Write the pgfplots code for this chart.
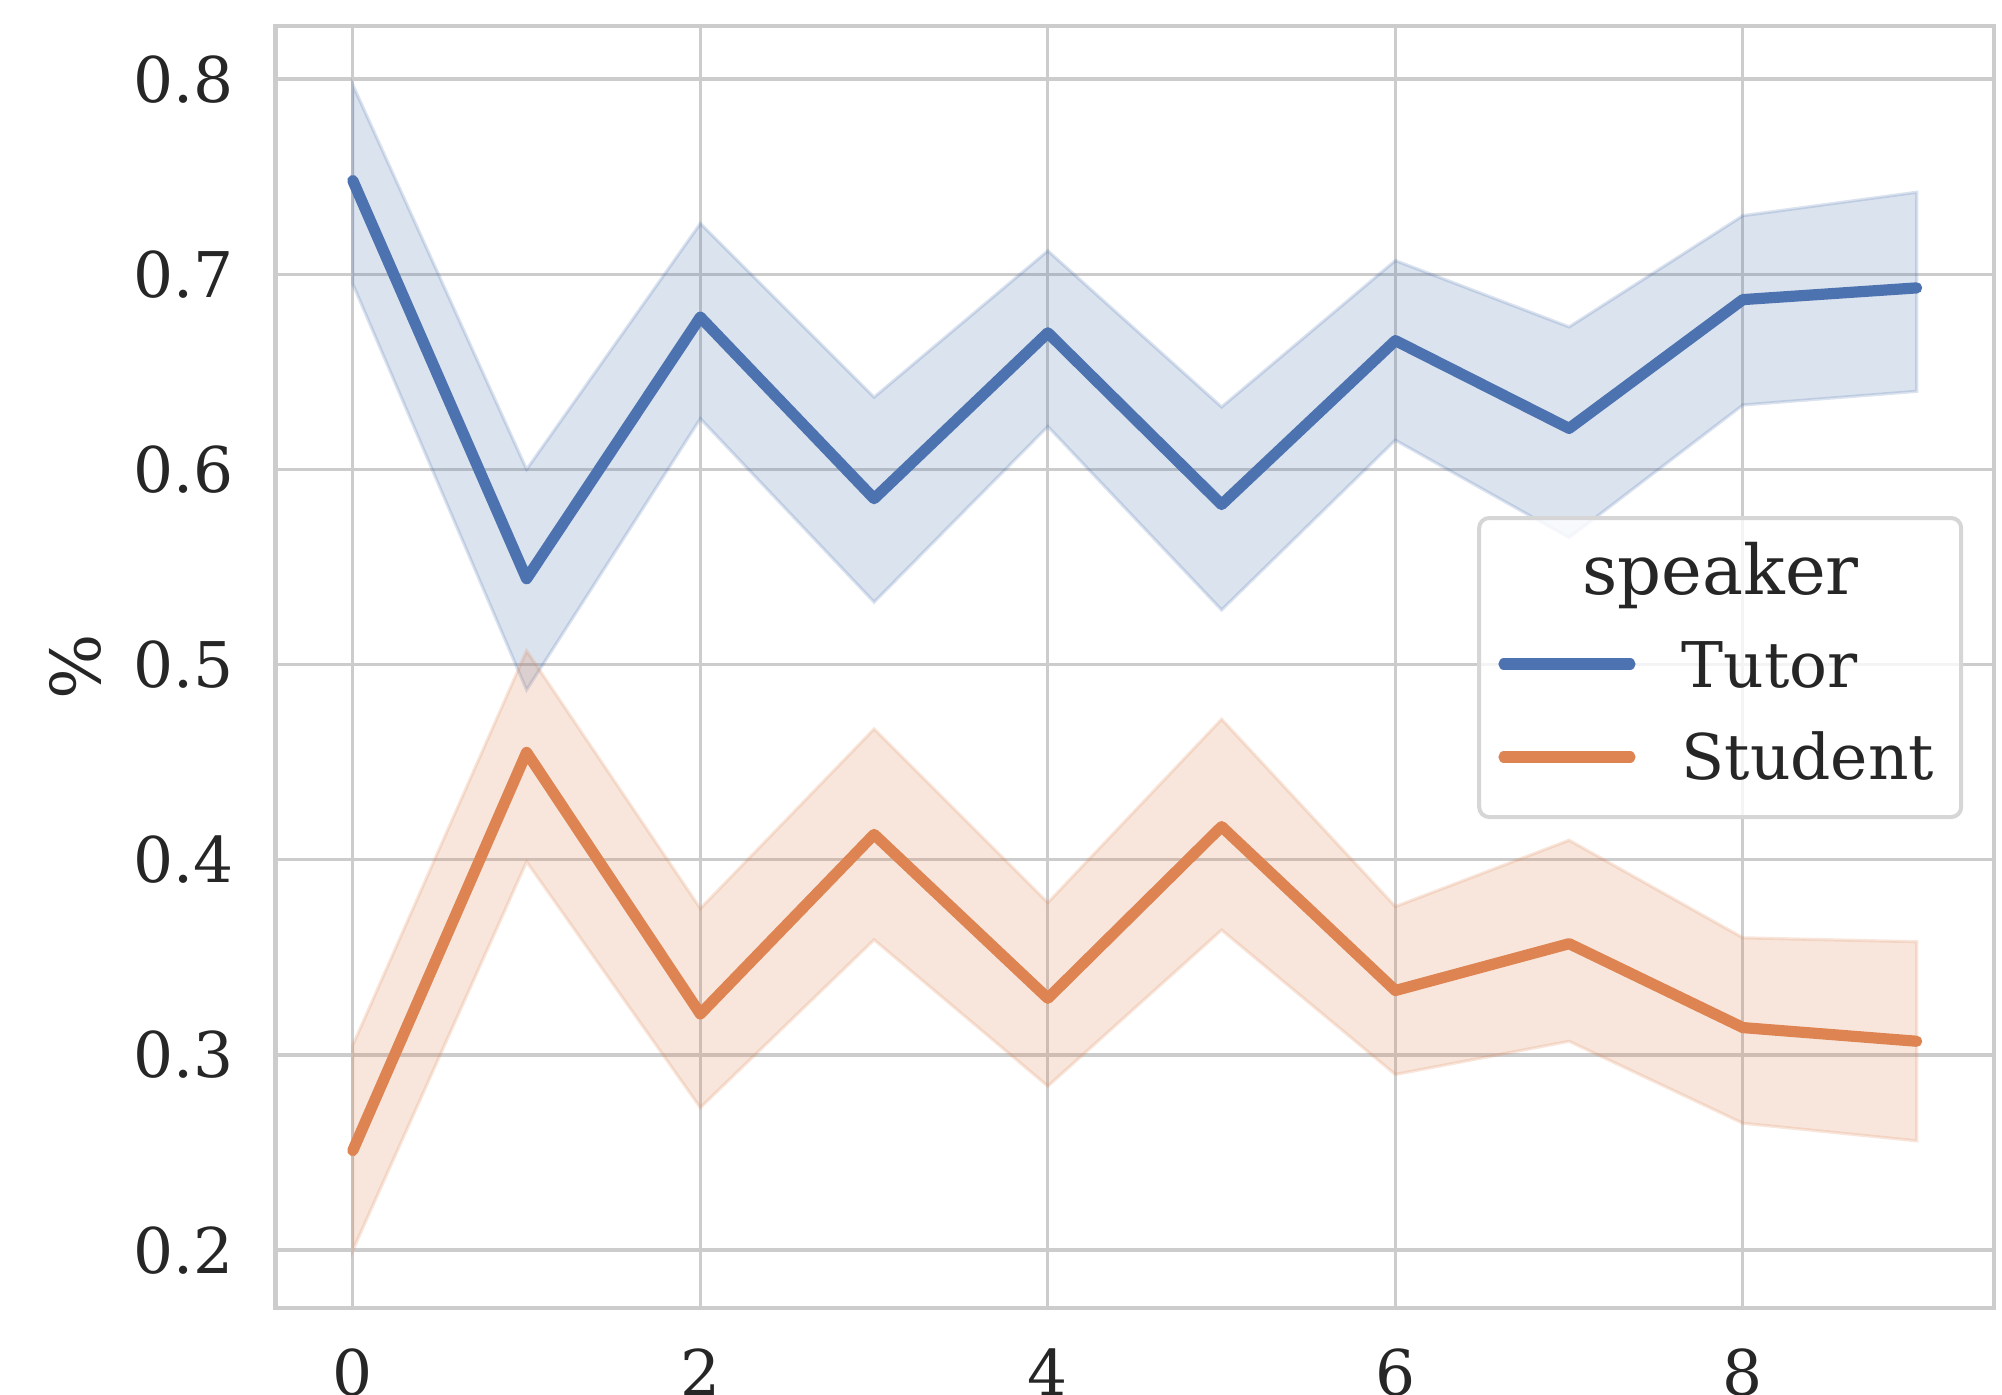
\documentclass[border=0pt]{standalone}
\usepackage{pgfplots}
\pgfplotsset{compat=1.18}
\usepackage{fontspec}
\setmainfont{DejaVu Serif}
\definecolor{sbblue}{HTML}{4C72B0}
\definecolor{sborange}{HTML}{DD8452}
\definecolor{gridc}{HTML}{CCCCCC}
\definecolor{legc}{HTML}{D6D6D6}
\definecolor{txt}{HTML}{262626}
\newcommand{\tickfont}{\fontsize{15.75}{18}\selectfont}
\newcommand{\labfont}{\fontsize{17.2}{20}\selectfont}
\begin{document}
\begin{tikzpicture}
\begin{axis}[
  scale only axis, width=429.6pt, height=320.5pt,
  xmin=-0.445, xmax=9.445, ymin=0.1703, ymax=0.8272,
  xtick={0,2,4,6,8}, ytick={0.2,0.3,0.4,0.5,0.6,0.7,0.8},
  grid=major, major grid style={draw=gridc, line width=0.8pt},
  axis line style={draw=gridc, line width=1.05pt},
  major tick length=0pt, tick style={draw=none},
  /pgf/number format/assume math mode=true,
  ticklabel style={font=\tickfont, text=txt},
  xticklabel style={anchor=north, inner sep=0pt, yshift=-10pt},
  yticklabel style={anchor=east, inner sep=0pt, xshift=-10.3pt,
    /pgf/number format/fixed, /pgf/number format/precision=1,
    /pgf/number format/fixed zerofill},
  ylabel={\%},
  ylabel style={at={(axis description cs:-0.1166,0.5)}, anchor=center,
    font=\labfont, text=txt, inner sep=0pt},
]
% Tutor CI band
\addplot[draw=sbblue, draw opacity=0.2, fill=sbblue, fill opacity=0.2, line width=0.8pt, forget plot]
  coordinates {(0,0.797) (1,0.600) (2,0.726) (3,0.637) (4,0.712) (5,0.632) (6,0.707) (7,0.673) (8,0.730) (9,0.742)
               (9,0.640) (8,0.633) (7,0.565) (6,0.615) (5,0.528) (4,0.622) (3,0.532) (2,0.626) (1,0.487) (0,0.695)} -- cycle;
% Tutor mean
\addplot[sbblue, line width=2.8pt, line cap=round, line join=round, mark=none]
  coordinates {(0,0.748) (1,0.544) (2,0.678) (3,0.585) (4,0.670) (5,0.582) (6,0.666) (7,0.621) (8,0.687) (9,0.693)};
% Student CI band
\addplot[draw=sborange, draw opacity=0.2, fill=sborange, fill opacity=0.2, line width=0.8pt, forget plot]
  coordinates {(0,0.305) (1,0.507) (2,0.375) (3,0.467) (4,0.378) (5,0.472) (6,0.376) (7,0.410) (8,0.360) (9,0.358)
               (9,0.256) (8,0.265) (7,0.307) (6,0.290) (5,0.364) (4,0.284) (3,0.359) (2,0.273) (1,0.399) (0,0.200)} -- cycle;
% Student mean
\addplot[sborange, line width=2.8pt, line cap=round, line join=round, mark=none]
  coordinates {(0,0.251) (1,0.455) (2,0.321) (3,0.413) (4,0.329) (5,0.417) (6,0.333) (7,0.357) (8,0.314) (9,0.307)};
\end{axis}
% legend
\draw[draw=legc, line width=1pt, fill=white, fill opacity=0.8, rounded corners=2.5pt]
  (300.9pt,122.75pt) rectangle (421.4pt,197.5pt);
\node[anchor=base, font=\labfont, text=txt, inner sep=0pt] at (361.25pt,178.5pt) {speaker};
\draw[sbblue, line width=2.8pt, line cap=round] (307.1pt,161pt) -- (338.6pt,161pt);
\node[anchor=base west, font=\tickfont, text=txt, inner sep=0pt] at (351.3pt,155.25pt) {Tutor};
\draw[sborange, line width=2.8pt, line cap=round] (307.1pt,137.75pt) -- (338.6pt,137.75pt);
\node[anchor=base west, font=\tickfont, text=txt, inner sep=0pt] at (351.3pt,132.25pt) {Student};
\pgfresetboundingbox
\useasboundingbox (-68.875pt,-21.5pt) rectangle (431.6pt,327pt);
\end{tikzpicture}
\end{document}
